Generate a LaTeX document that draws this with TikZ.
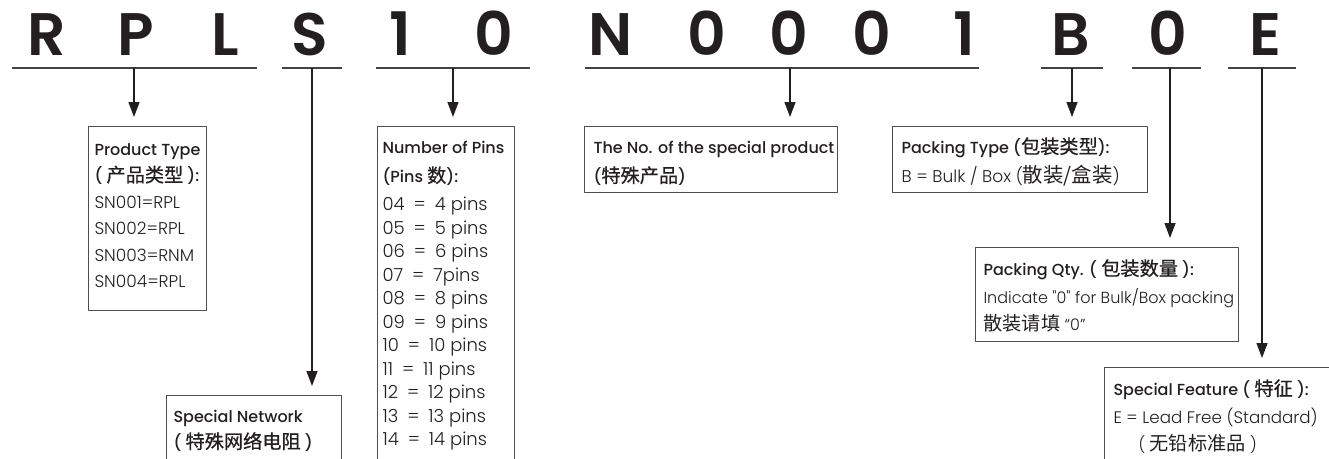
\documentclass[tikz,border=0pt]{standalone}
\usepackage{fontspec}
\setmainfont{Poppins}[Ligatures=TeXOff, UprightFont={* Light}, BoldFont={* Medium}]
\newfontfamily\hdrfont{Poppins}[UprightFont={* SemiBold}]
\newfontfamily\cjk{Noto Sans CJK SC}[Scale=1.2, BoldFont={Noto Sans CJK SC}, BoldFeatures={FakeBold=0.7}]
\usetikzlibrary{arrows.meta}
\definecolor{ink}{RGB}{35,31,32}
\newcommand{\zh}[1]{{\cjk #1}}
\newcommand{\pn}[2]{\fontsize{18}{23.5}\selectfont #1\enspace=\enspace #2}
% fixed-size box body, lines never wrap
\newcommand{\boxtext}[4]{\begin{minipage}[t][#2][t]{#1}#3\begin{tabular}[t]{@{}l@{}}#4\end{tabular}\end{minipage}}
\tikzset{
  letter/.style={anchor=base, text=ink, font=\hdrfont\fontsize{60}{60}\selectfont, inner sep=0pt},
  uline/.style={draw=ink!85, line width=2pt},
  stem/.style={draw=ink, line width=1.3pt, -{Triangle[length=15pt,width=11pt]}, shorten >=9pt},
  infobox/.style={draw=ink!80, line width=1pt, anchor=north west, inner xsep=7pt, inner ysep=0pt, text=ink}
}
\begin{document}
\begin{tikzpicture}[x=1pt, y=-1pt, line join=round]
  \useasboundingbox (0,0) rectangle (1329,458);
  \clip (0,0) rectangle (1329,458);
  % code letters
  \foreach \x/\c [count=\n] in {47/R, 136/P, 225/L, 310/S, 400/1, 494/0, 611/N, 707/0, 789/0, 872/0, 964/1, 1071/B, 1168/0, 1265/E}
    \node[letter] (h\n) at (\x,55) {\c};
  % underlines and stem points
  \foreach \a/\b/\m [count=\n] in {12/257/134, 282/342/312, 376/530/453, 585/979/790, 1041/1103/1072, 1132/1201/1170, 1228/1296/1262} {
    \draw[uline] (\a,68) -- (\b,68);
    \coordinate (s\n) at (\m,68);
  }
  % boxes
  \node[infobox, inner xsep=6pt] (ptype) at (88,126) {\boxtext{106pt}{184pt}{\fontsize{17}{26.4}\selectfont}{%
    \rule{0pt}{29pt}{\fontsize{16}{26.4}\selectfont\textbf{Product Type}}\\
    {\fontsize{16}{26.4}\selectfont\textbf{( \zh{产品类型} ):}}\\
    SN001=RPL\\ SN002=RPL\\ SN003=RNM\\ SN004=RPL}};
  \node[infobox] (snet) at (166,395) {\boxtext{161pt}{120pt}{\fontsize{16}{26}\selectfont}{%
    \rule{0pt}{27pt}\textbf{Special Network}\\
    \textbf{( \zh{特殊网络电阻} )}}};
  \node[infobox, inner xsep=5pt] (npins) at (377,126) {\boxtext{127pt}{360pt}{\fontsize{16}{23.5}\selectfont}{%
    \rule{0pt}{27pt}\textbf{Number of Pins}\\[5.5pt]
    \textbf{(Pins \zh{数}):}\\[4.5pt]
    \pn{04}{4 pins}\\ \pn{05}{5 pins}\\ \pn{06}{6 pins}\\ \pn{07}{7pins}\\ \pn{08}{8 pins}\\ \pn{09}{9 pins}\\
    \pn{10}{10 pins}\\ \pn{11}{11 pins}\\ \pn{12}{12 pins}\\ \pn{13}{13 pins}\\ \pn{14}{14 pins}}};
  \node[infobox, inner xsep=9pt] (sprod) at (584,126) {\boxtext{235pt}{66pt}{\fontsize{16}{29}\selectfont}{%
    \rule{0pt}{27pt}\textbf{The No. of the special product}\\
    \textbf{(\zh{特殊产品})}}};
  \node[infobox, inner xsep=9pt] (ptyp) at (892,126) {\boxtext{237pt}{66pt}{\fontsize{16}{29}\selectfont}{%
    \rule{0pt}{27pt}\textbf{Packing Type (\zh{包装类型}):}\\
    {\fontsize{17}{29}\selectfont B = Bulk / Box (\zh{散装/盒装})}}};
  \node[infobox, inner xsep=8pt] (pqty) at (975,247) {\boxtext{247pt}{94pt}{\fontsize{16}{27.5}\selectfont}{%
    \rule{0pt}{28pt}\textbf{Packing Qty. ( \zh{包装数量} ):}\\
    Indicate "0" for Bulk/Box packing\\
    \zh{散装请填} “0”}};
  \node[infobox, inner xsep=9pt] (sfeat) at (1104,367) {\boxtext{260pt}{120pt}{\fontsize{16}{27.5}\selectfont}{%
    \rule{0pt}{28pt}\textbf{Special Feature ( \zh{特征} ):}\\
    {\fontsize{16.7}{27.5}\selectfont E = Lead Free (Standard)}\\
    \hspace*{25pt}( \zh{无铅标准品} )}};
  % connectors
  \draw[stem] (s1) -- (s1 |- ptype.north);
  \draw[stem] (s2) -- (s2 |- snet.north);
  \draw[stem] (s3) -- (s3 |- npins.north);
  \draw[stem] (s4) -- (s4 |- sprod.north);
  \draw[stem] (s5) -- (s5 |- ptyp.north);
  \draw[stem] (s6) -- (s6 |- pqty.north);
  \draw[stem] (s7) -- (s7 |- sfeat.north);
\end{tikzpicture}
\end{document}
